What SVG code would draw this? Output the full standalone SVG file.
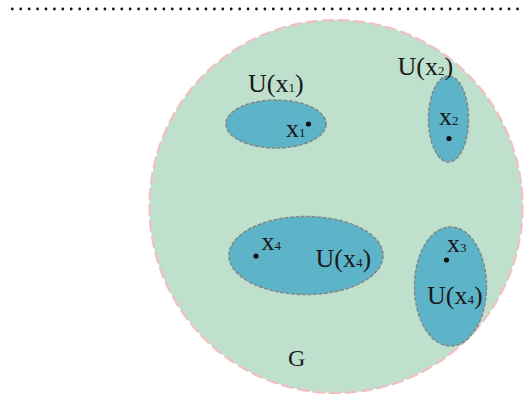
<svg xmlns="http://www.w3.org/2000/svg" width="525" height="399" viewBox="0 0 525 399">
<style>
.t{font-family:"Liberation Serif","Times New Roman",serif;fill:#1a1a1a;font-size:26px}
.s{font-size:13px}
.nb{fill:#5db3c8;stroke:#7a8a88;stroke-width:1.5;stroke-dasharray:4 1.5}
.dot{fill:#111}
</style>
<rect width="525" height="399" fill="#ffffff"/>
<line x1="12.3" y1="9" x2="525" y2="9" stroke="#111" stroke-width="2.8" stroke-linecap="round" stroke-dasharray="0 8.42"/>
<g id="G">
<circle cx="336" cy="206.5" r="186.5" fill="#bee0cc" stroke="#f0bfc2" stroke-width="2.2" stroke-dasharray="12 4"/>
<text class="t" x="288" y="366" style="font-size:24px">G</text>
</g>
<g id="U1">
<ellipse class="nb" cx="276" cy="124" rx="50" ry="24"/>
<circle class="dot" cx="308.5" cy="124" r="2.6"/>
<text class="t" x="286" y="137">x<tspan class="s">1</tspan></text>
<text class="t" x="248" y="92">U(x<tspan class="s">1</tspan>)</text>
</g>
<g id="U2">
<ellipse class="nb" cx="448.5" cy="119" rx="20" ry="43"/>
<circle class="dot" cx="449" cy="138.5" r="2.6"/>
<text class="t" x="439" y="125">x<tspan class="s">2</tspan></text>
<text class="t" x="397.5" y="75">U(x<tspan class="s">2</tspan>)</text>
</g>
<g id="U4">
<ellipse class="nb" cx="306" cy="255.5" rx="77" ry="39"/>
<circle class="dot" cx="256" cy="256" r="2.6"/>
<text class="t" x="261.5" y="249.5">x<tspan class="s">4</tspan></text>
<text class="t" x="315.5" y="267">U(x<tspan class="s">4</tspan>)</text>
</g>
<g id="U3">
<ellipse class="nb" cx="450.5" cy="286.5" rx="36" ry="59.5"/>
<circle class="dot" cx="446.5" cy="260" r="2.6"/>
<text class="t" x="447" y="252">x<tspan class="s">3</tspan></text>
<text class="t" x="427" y="303.5">U(x<tspan class="s">4</tspan>)</text>
</g>
</svg>
